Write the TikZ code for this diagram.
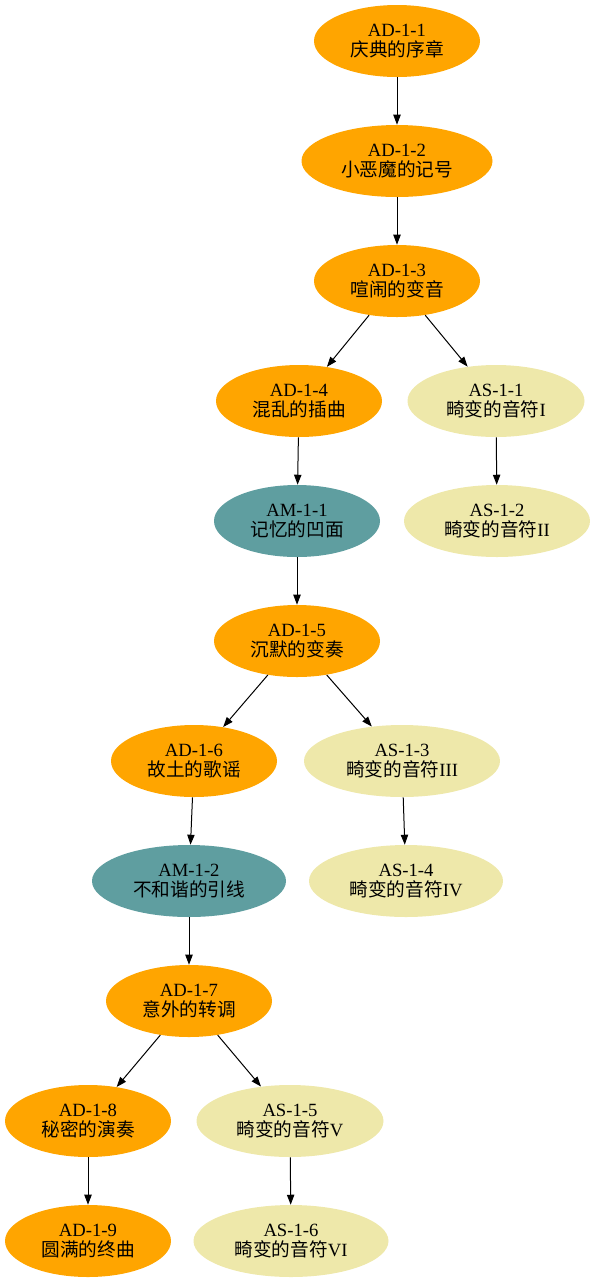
\documentclass[tikz,border=0pt]{standalone}
\usepackage{fontspec}
\setmainfont{Liberation Serif}
\newfontfamily\cjk{Noto Sans CJK SC}
\usepackage{tikz}
\usetikzlibrary{shapes.geometric, arrows.meta, positioning}
\definecolor{adorange}{HTML}{FFA500}
\definecolor{amblue}{HTML}{5F9EA0}
\definecolor{asgold}{HTML}{EEE8AA}

\begin{document}
\begin{tikzpicture}[
        x=0.75pt, y=-0.75pt,
        base/.style={ellipse, inner sep=0pt, minimum height=54pt, align=center, font=\fontsize{14pt}{14.5pt}\selectfont},
        adnode/.style={base, fill=adorange, minimum width=124.5pt},
        amnode/.style={base, fill=amblue, minimum width=124.5pt},
        asnode/.style={base, fill=asgold, minimum width=140pt},
        arrow/.style={-{Triangle[length=7.5pt, width=5.5pt]}, line width=0.75pt}
    ]
    \useasboundingbox (0,0) rectangle (595,1283);

    \node[adnode] (ad11) at (397,41) {AD-1-1\\{\cjk 庆典的序章}};
    \node[adnode, minimum width=143.25pt] (ad12) at (397,161) {AD-1-2\\{\cjk 小恶魔的记号}};
    \node[adnode] (ad13) at (397,281) {AD-1-3\\{\cjk 喧闹的变音}};
    \node[adnode] (ad14) at (299,401) {AD-1-4\\{\cjk 混乱的插曲}};
    \node[asnode, minimum width=132.75pt] (as11) at (496,401) {AS-1-1\\{\cjk 畸变的音符}I};
    \node[amnode] (am11) at (297,521) {AM-1-1\\{\cjk 记忆的凹面}};
    \node[asnode, minimum width=139.5pt] (as12) at (497,521) {AS-1-2\\{\cjk 畸变的音符}II};
    \node[adnode] (ad15) at (297,641) {AD-1-5\\{\cjk 沉默的变奏}};
    \node[adnode] (ad16) at (194,761) {AD-1-6\\{\cjk 故土的歌谣}};
    \node[asnode, minimum width=147pt] (as13) at (402,761) {AS-1-3\\{\cjk 畸变的音符}III};
    \node[amnode, minimum width=145.5pt] (am12) at (189,881) {AM-1-2\\{\cjk 不和谐的引线}};
    \node[asnode, minimum width=145.5pt] (as14) at (406,881) {AS-1-4\\{\cjk 畸变的音符}IV};
    \node[adnode] (ad17) at (189,1001) {AD-1-7\\{\cjk 意外的转调}};
    \node[adnode] (ad18) at (88,1121) {AD-1-8\\{\cjk 秘密的演奏}};
    \node[asnode, minimum width=140.25pt] (as15) at (290,1121) {AS-1-5\\{\cjk 畸变的音符}V};
    \node[adnode] (ad19) at (88,1241) {AD-1-9\\{\cjk 圆满的终曲}};
    \node[asnode, minimum width=146.25pt] (as16) at (291,1241) {AS-1-6\\{\cjk 畸变的音符}VI};

    \draw[arrow] (ad11) -- (ad12);
    \draw[arrow] (ad12) -- (ad13);
    \draw[arrow] (ad13) -- (ad14);
    \draw[arrow] (ad13) -- (as11);
    \draw[arrow] (ad14) -- (am11);
    \draw[arrow] (as11) -- (as12);
    \draw[arrow] (am11) -- (ad15);
    \draw[arrow] (ad15) -- (ad16);
    \draw[arrow] (ad15) -- (as13);
    \draw[arrow] (ad16) -- (am12);
    \draw[arrow] (as13) -- (as14);
    \draw[arrow] (am12) -- (ad17);
    \draw[arrow] (ad17) -- (ad18);
    \draw[arrow] (ad17) -- (as15);
    \draw[arrow] (ad18) -- (ad19);
    \draw[arrow] (as15) -- (as16);
\end{tikzpicture}
\end{document}
